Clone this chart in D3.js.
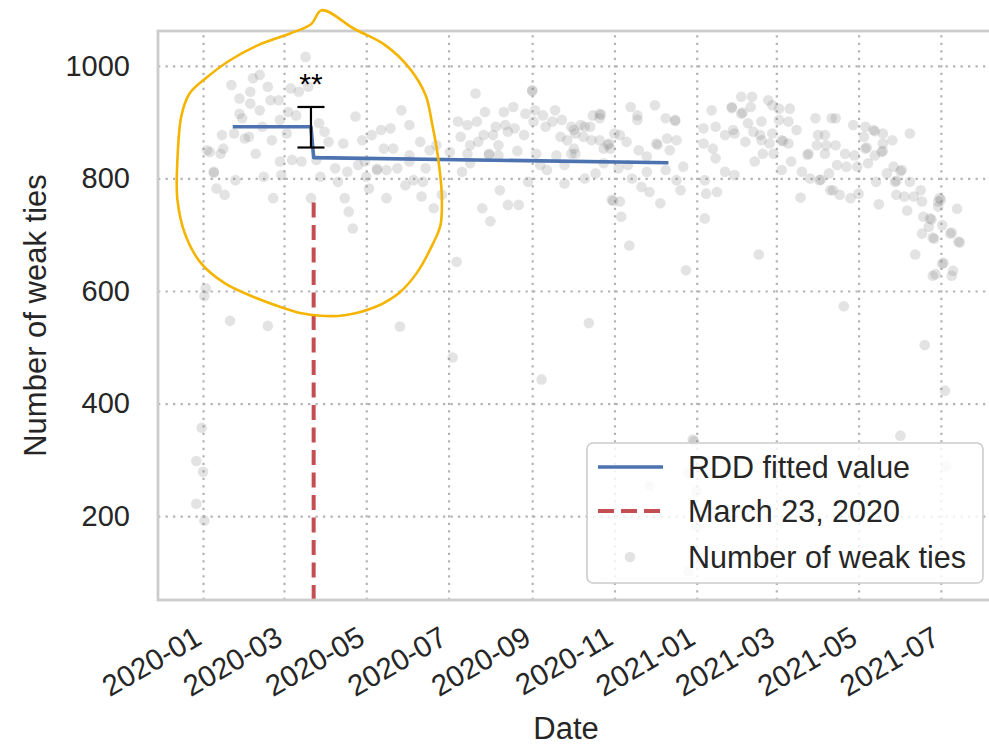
<!DOCTYPE html>
<html>
<head>
<meta charset="utf-8">
<script src="https://cdn.jsdelivr.net/npm/d3@7"></script>
<style>
  html, body { margin: 0; padding: 0; background: #fff; }
  svg { display: block; font-family: "Liberation Sans", Arial, Helvetica, sans-serif; }
</style>
</head>
<body>
<svg id="chart" width="989" height="748"></svg>
<script>
// ---- Data -------------------------------------------------------------
// Daily observations: days since 2020-01-01 and number of weak ties.
const tieDays = [
  -1, -5, 0, -5, 1, 2, 1,
  76, 21, 37, 42, 48, 27, 35, 35, 42, 50, 56, 65, 71, 78, 27, 29, 57, 63, 69, 14, 23, 31, 34, 44, 51, 62, 5, 13, 15, 39, 57, 66, 73, 8, 8, 10, 16, 24, 45, 58, 52, 80, 3, 20, 48,
  147, 113, 153, 86, 90, 139, 132, 125, 118, 104, 93, 134, 141, 161, 168, 173, 84, 98, 107, 115, 120, 129, 129, 136, 144, 153, 153, 165, 100, 87, 121, 123, 150, 156, 163, 105, 136, 162, 171, 108, 111, 177, 146, 185,
  202, 244, 244, 209, 223, 230, 239, 246, 252, 261, 259, 266, 189, 196, 203, 217, 224, 226, 231, 238, 245, 254, 191, 208, 215, 198, 204, 219, 265, 270, 275, 183, 196, 212, 212, 233, 219, 247, 262, 273, 198, 192, 250, 255, 268, 241, 268, 220, 207, 226, 234, 213, 188, 251,
  317, 335, 322, 322, 343, 350, 350, 289, 294, 295, 294, 273, 280, 283, 287, 276, 282, 288, 294, 305, 309, 314, 301, 300, 302, 297, 276, 323, 329, 336, 337, 344, 346, 351, 275, 291, 283, 297, 308, 315, 318, 329, 343, 356, 351, 354, 325, 331, 339, 304, 303, 309, 310, 316, 358, 286, 363, 364, 331, 360, 366, 366, 360,
  377, 399, 407, 419, 392, 392, 399, 400, 406, 422, 427, 435, 454, 466, 404, 414, 427, 434, 371, 380, 393, 408, 422, 440, 456, 461, 387, 394, 402, 413, 414, 420, 429, 430, 434, 371, 378, 380, 415, 423, 455, 462, 461, 449, 448, 409, 429, 436, 444, 450, 457, 458, 464, 387, 394, 372, 373, 381, 443, 465, 372, 412,
  469, 482, 491, 497, 498, 504, 524, 511, 469, 476, 483, 490, 491, 492, 498, 503, 504, 504, 470, 477, 485, 493, 507, 512, 518, 517, 513, 514, 524, 532, 467, 472, 480, 486, 499, 501, 514, 520, 527, 522, 533, 534, 539, 540, 538, 546, 547, 545, 559, 548, 533, 541, 542, 554, 555, 560, 561, 528, 548, 549, 556, 543, 555, 541, 545, 475, 535, 550, 517, 551
];
const tieCounts = [
  357, 298, 279, 222, 192, 605, 591,
  1016, 966, 978, 984, 963, 942, 954, 933, 921, 939, 939, 960, 954, 963, 915, 907, 904, 918, 912, 877, 880, 871, 874, 892, 868, 880, 847, 844, 853, 844, 830, 833, 830, 812, 810, 782, 771, 797, 803, 806, 765, 765, 850, 547, 538,
  921, 910, 895, 898, 883, 889, 886, 877, 868, 862, 865, 853, 853, 865, 850, 859, 833, 818, 812, 824, 830, 815, 817, 815, 818, 841, 830, 818, 794, 803, 803, 782, 788, 797, 794, 765, 765, 768, 747, 741, 711, 771, 537, 482,
  951, 957, 955, 918, 918, 927, 915, 921, 912, 921, 901, 904, 901, 895, 901, 892, 895, 883, 889, 877, 901, 892, 874, 877, 877, 859, 865, 859, 874, 868, 886, 847, 844, 844, 842, 849, 841, 844, 841, 844, 827, 812, 824, 815, 824, 794, 791, 779, 747, 753, 753, 724, 652, 443,
  927, 930, 912, 904, 907, 904, 902, 912, 915, 913, 907, 892, 895, 892, 892, 880, 874, 868, 868, 880, 877, 865, 862, 860, 853, 853, 844, 850, 839, 862, 860, 871, 850, 868, 853, 809, 800, 827, 818, 824, 800, 812, 815, 821, 797, 779, 785, 776, 756, 760, 762, 759, 732, 681, 637, 543, 336, 333, 253, 276, 244, 182, 102,
  921, 945, 945, 939, 927, 925, 915, 917, 927, 930, 924, 924, 907, 907, 898, 901, 904, 901, 889, 892, 886, 883, 880, 886, 877, 877, 877, 880, 865, 877, 868, 862, 868, 866, 862, 862, 853, 836, 844, 844, 859, 859, 844, 844, 842, 830, 815, 830, 812, 800, 797, 798, 809, 812, 806, 797, 773, 776, 766, 779, 729, 665,
  907, 895, 892, 886, 884, 880, 880, 868, 859, 844, 841, 874, 853, 855, 841, 847, 849, 862, 824, 821, 821, 827, 809, 821, 815, 813, 794, 796, 794, 779, 779, 771, 765, 773, 794, 754, 771, 768, 768, 743, 759, 732, 729, 727, 714, 765, 762, 750, 746, 717, 702, 695, 693, 702, 704, 688, 686, 665, 649, 650, 636, 630, 627, 627, 759, 573, 504, 423, 343, 288
];

// RDD fitted value (pre- and post-cutoff segments joined at the cutoff)
const fitDays = [22, 80, 82, 345];
const fitValues = [892, 892, 837, 828];

// Discontinuity estimate with its confidence interval
const jumpDay = 80;
const jumpLow = 855;
const jumpHigh = 927;
const jumpStars = "**";

// Policy cutoff
const cutoffDate = "2020-03-23";
const cutoffLabel = "March 23, 2020";

// Hand-drawn highlight ring around the discontinuity (days, ties)
const highlightRing = [
  [88, 1099], [112, 1066], [135, 1037], [153, 996], [165, 948], [170, 895], [174, 841],
  [177, 770], [176, 717], [170, 682], [159, 634], [146, 598], [128, 572], [105, 557],
  [87, 556], [72, 561], [57, 572], [39, 588], [16, 614], [-2, 651], [-13, 699],
  [-19, 762], [-19, 833], [-16, 912], [-10, 951], [2, 978], [20, 1010], [41, 1037],
  [65, 1058], [80, 1074]
];

// Axis ticks
const xTickLabels = ["2020-01", "2020-03", "2020-05", "2020-07", "2020-09", "2020-11", "2021-01", "2021-03", "2021-05", "2021-07"];
const yTicks = [200, 400, 600, 800, 1000];
const yDomain = [51, 1062];

const legendLabels = ["RDD fitted value", cutoffLabel, "Number of weak ties"];

// ---- Layout -----------------------------------------------------------
const W = 989, H = 748;
const plot = { left: 158, top: 31, right: 992, bottom: 600 };
const pw = plot.right - plot.left, ph = plot.bottom - plot.top;

const colBlue = "#4C72B0", colRed = "#C44E52", colGray = "#808080";
const textCol = "#262626", gridCol = "#b4b4b4", frameCol = "#cccccc";

const dayMs = 864e5;
const origin = Date.UTC(2020, 0, 1);
const toDate = d => new Date(origin + d * dayMs);
const parseMonth = d3.utcParse("%Y-%m");
const parseDay = d3.utcParse("%Y-%m-%d");

const x = d3.scaleUtc().domain([toDate(-33.4), toDate(584.9)]).range([plot.left, plot.right]);
const y = d3.scaleLinear().domain(yDomain).range([plot.bottom, plot.top]);

const svg = d3.select("#chart");
svg.append("rect").attr("width", W).attr("height", H).attr("fill", "#fff");

// ---- Grid + tick labels ------------------------------------------------
const yAxis = svg.append("g")
  .attr("transform", `translate(${plot.left},0)`)
  .call(d3.axisLeft(y).tickValues(yTicks).tickSize(-pw).tickPadding(28).tickFormat(d3.format("d")));
yAxis.select(".domain").remove();
yAxis.selectAll("line")
  .attr("stroke", gridCol).attr("stroke-width", 2.2).attr("stroke-dasharray", "2.3 5.2");
yAxis.selectAll("text")
  .attr("fill", textCol).attr("font-size", 29).attr("font-family", null);

const xTicks = xTickLabels.map(parseMonth);
const xAxis = svg.append("g")
  .attr("transform", `translate(0,${plot.bottom})`)
  .call(d3.axisBottom(x).tickValues(xTicks).tickSize(-ph).tickFormat(d3.utcFormat("%Y-%m")));
xAxis.select(".domain").remove();
xAxis.selectAll("line")
  .attr("stroke", gridCol).attr("stroke-width", 2.2).attr("stroke-dasharray", "2.3 5.2");
xAxis.selectAll("text")
  .attr("fill", textCol).attr("font-size", 29.5).attr("font-family", null)
  .attr("text-anchor", "end").attr("y", 0).attr("dy", 0)
  .attr("transform", "translate(0,43) rotate(-30)");

// ---- Scatter -----------------------------------------------------------
const points = tieDays.map((d, i) => ({ date: toDate(d), value: tieCounts[i] }));
svg.append("g").selectAll("circle").data(points).join("circle")
  .attr("cx", d => x(d.date))
  .attr("cy", d => y(d.value))
  .attr("r", 5.3)
  .attr("fill", colGray)
  .attr("fill-opacity", 0.22);

// ---- Cutoff line (spans the lower 70% of the axes) ---------------------
const cutX = x(parseDay(cutoffDate));
svg.append("line")
  .attr("x1", cutX).attr("x2", cutX)
  .attr("y1", plot.bottom).attr("y2", plot.bottom - 0.7 * ph)
  .attr("stroke", colRed).attr("stroke-width", 4)
  .attr("stroke-dasharray", "15 7.5");

// ---- RDD fitted line ---------------------------------------------------
const fit = fitDays.map((d, i) => [x(toDate(d)), y(fitValues[i])]);
svg.append("path")
  .attr("d", d3.line()(fit))
  .attr("fill", "none").attr("stroke", colBlue).attr("stroke-width", 3.6)
  .attr("stroke-linejoin", "round");

// ---- Error bar + significance -----------------------------------------
const ex = x(toDate(jumpDay));
const eb = svg.append("g").attr("stroke", "#000").attr("stroke-width", 2.2);
eb.append("line").attr("x1", ex).attr("x2", ex).attr("y1", y(jumpLow)).attr("y2", y(jumpHigh));
eb.append("line").attr("x1", ex - 13.5).attr("x2", ex + 13.5).attr("y1", y(jumpLow)).attr("y2", y(jumpLow));
eb.append("line").attr("x1", ex - 13.5).attr("x2", ex + 13.5).attr("y1", y(jumpHigh)).attr("y2", y(jumpHigh));
svg.append("text")
  .attr("x", ex).attr("y", y(jumpHigh) - 13)
  .attr("text-anchor", "middle").attr("font-size", 30).attr("fill", "#000")
  .text(jumpStars);

// ---- Frame --------------------------------------------------------------
svg.append("rect")
  .attr("x", plot.left).attr("y", plot.top).attr("width", pw).attr("height", ph)
  .attr("fill", "none").attr("stroke", frameCol).attr("stroke-width", 2.8);

// ---- Axis titles --------------------------------------------------------
svg.append("text")
  .attr("x", 566).attr("y", 739)
  .attr("text-anchor", "middle").attr("font-size", 31).attr("fill", textCol)
  .text("Date");
svg.append("text")
  .attr("transform", `translate(46,${(plot.top + plot.bottom) / 2}) rotate(-90)`)
  .attr("text-anchor", "middle").attr("font-size", 31).attr("fill", textCol)
  .text("Number of weak ties");

// ---- Legend -------------------------------------------------------------
const lg = svg.append("g").attr("transform", "translate(587,443)");
lg.append("rect")
  .attr("width", 396).attr("height", 140).attr("rx", 6)
  .attr("fill", "#fff").attr("fill-opacity", 0.8)
  .attr("stroke", frameCol).attr("stroke-width", 1.6);
const rowY = [24, 68, 114];
lg.append("line").attr("x1", 11).attr("x2", 76).attr("y1", rowY[0]).attr("y2", rowY[0])
  .attr("stroke", colBlue).attr("stroke-width", 3.6);
lg.append("line").attr("x1", 11).attr("x2", 76).attr("y1", rowY[1]).attr("y2", rowY[1])
  .attr("stroke", colRed).attr("stroke-width", 4).attr("stroke-dasharray", "16 7");
lg.append("circle").attr("cx", 43).attr("cy", rowY[2]).attr("r", 5.3)
  .attr("fill", colGray).attr("fill-opacity", 0.22);
lg.selectAll("text.lbl").data(legendLabels).join("text")
  .attr("class", "lbl")
  .attr("x", 101).attr("y", (d, i) => rowY[i] + 10.5)
  .attr("font-size", 30.5).attr("fill", textCol)
  .text(d => d);

// ---- Highlight ring -----------------------------------------------------
const ring = highlightRing.map(([d, v]) => [x(toDate(d)), y(v)]);
svg.append("path")
  .attr("d", d3.line().curve(d3.curveCatmullRomClosed.alpha(0.5))(ring))
  .attr("fill", "none").attr("stroke", "#F5B400").attr("stroke-width", 2.6)
  .attr("stroke-linejoin", "round");
</script>
</body>
</html>
